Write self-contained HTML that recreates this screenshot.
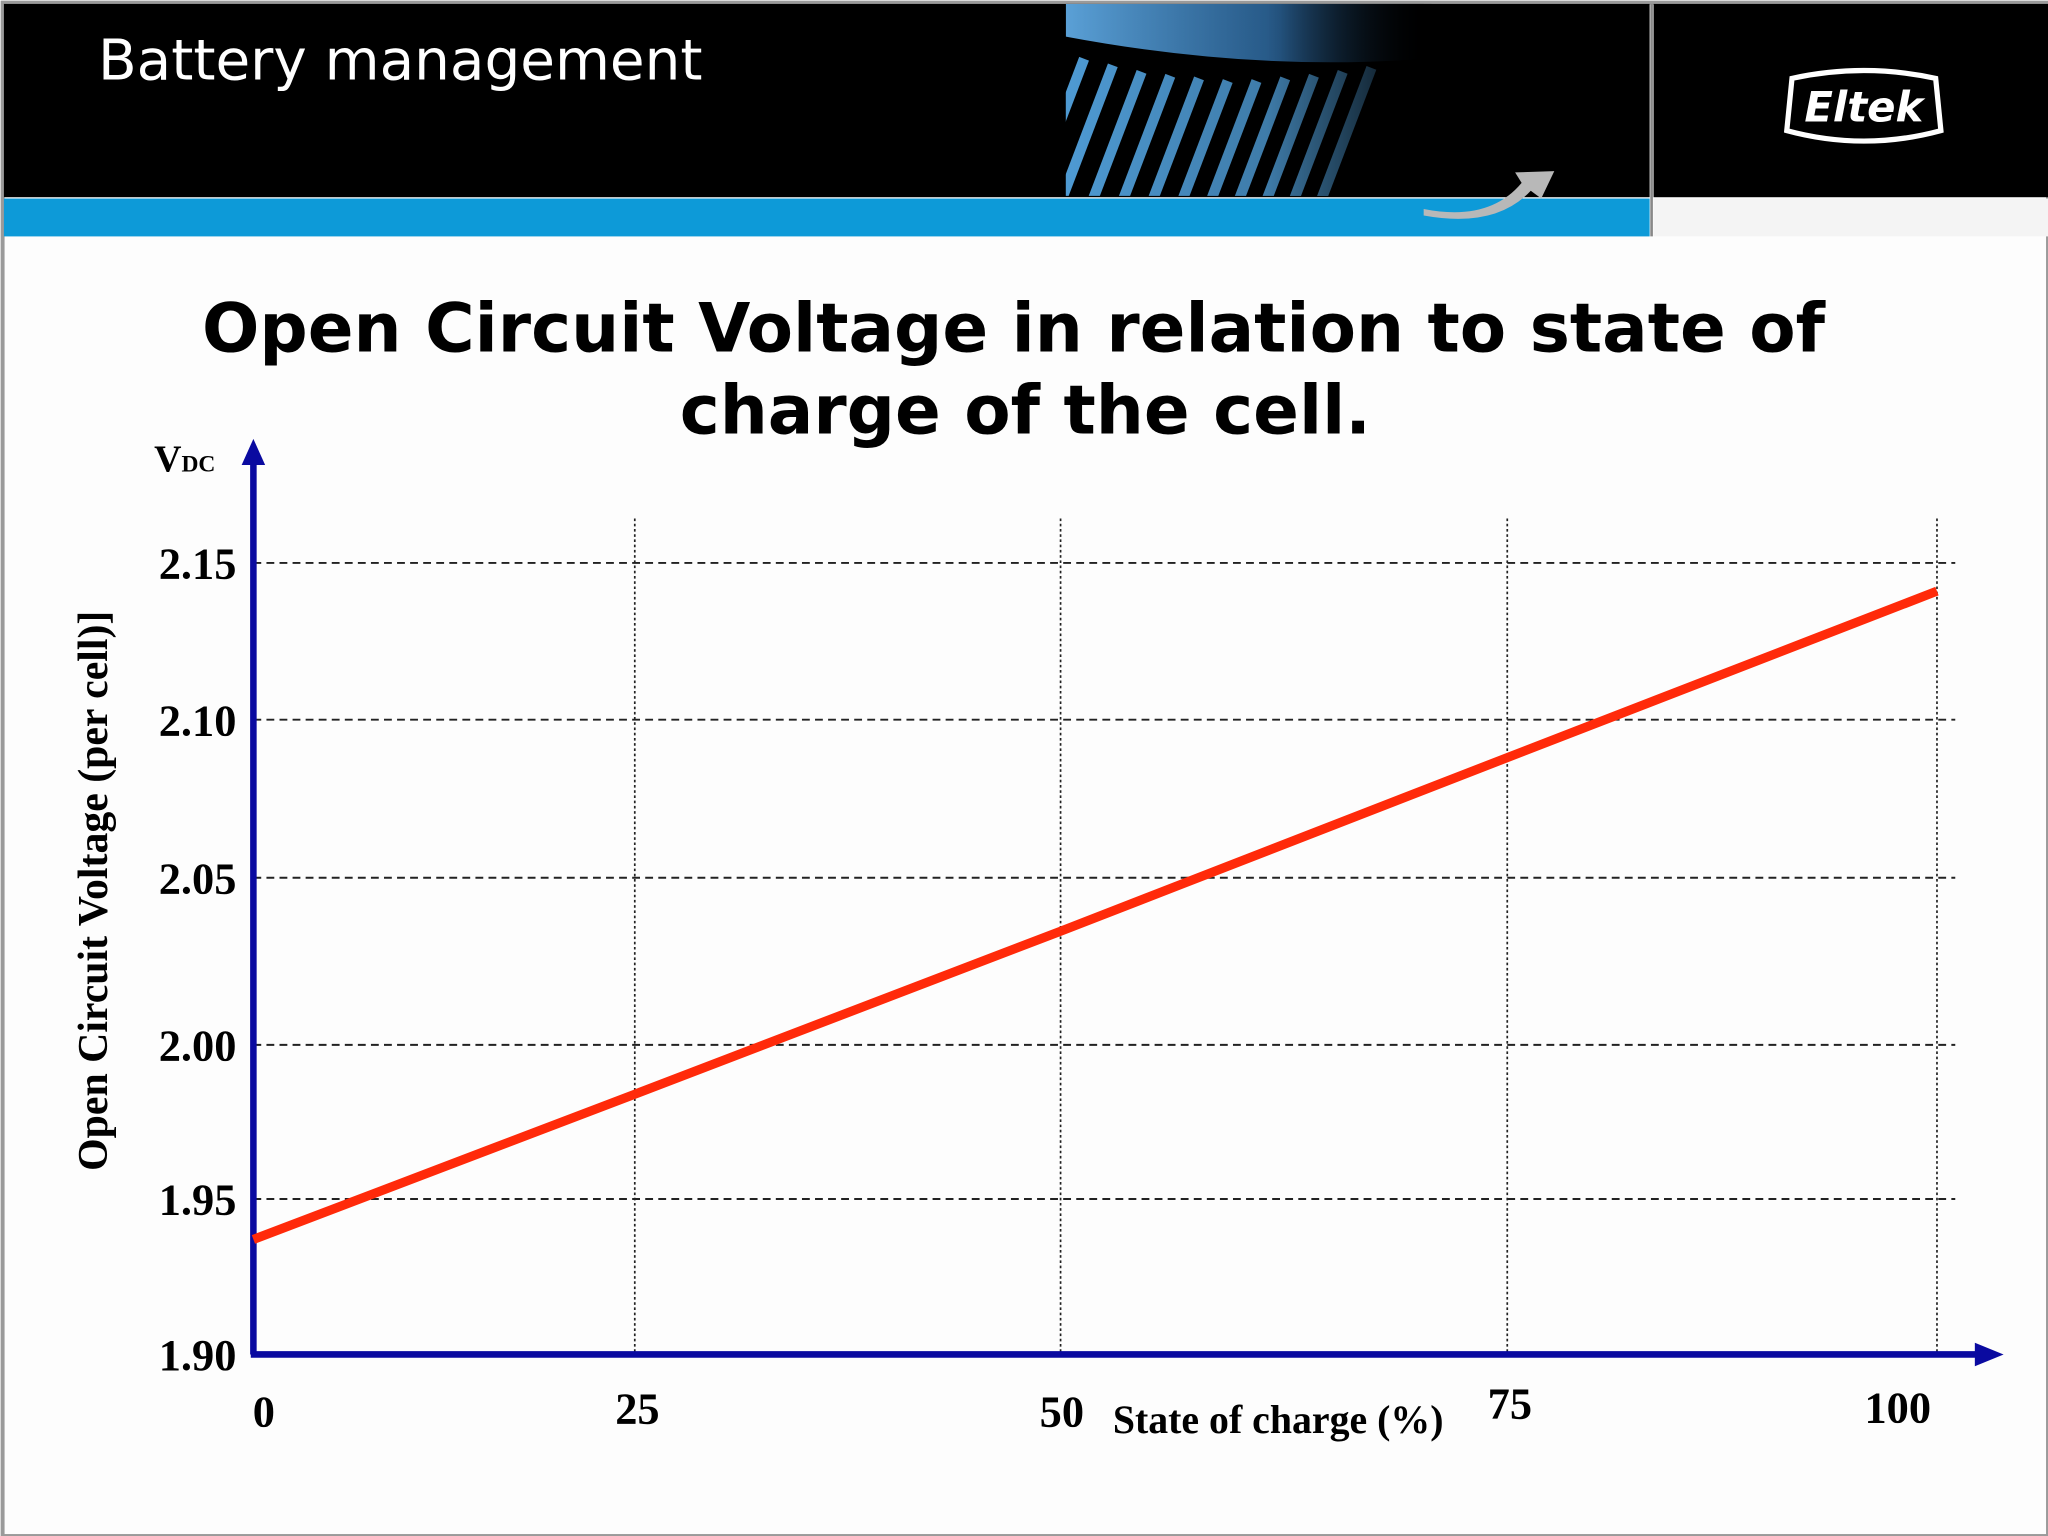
<!DOCTYPE html>
<html><head><meta charset="utf-8">
<style>
html,body{margin:0;padding:0;background:#fff;}
svg{display:block;}
</style></head>
<body>
<svg id="chart" width="2048" height="1536" viewBox="0 0 1568 1176" xmlns="http://www.w3.org/2000/svg">
  <defs>
    <linearGradient id="cap" x1="0" y1="0" x2="1" y2="0">
      <stop offset="0" stop-color="#5aa0d6"/><stop offset="0.6" stop-color="#2f6ea8"/><stop offset="1" stop-color="#000"/>
    </linearGradient>
    <linearGradient id="fade" x1="0" y1="0" x2="1" y2="0">
      <stop offset="0" stop-color="#000" stop-opacity="0"/><stop offset="0.55" stop-color="#000" stop-opacity="0.2"/><stop offset="1" stop-color="#000" stop-opacity="1"/>
    </linearGradient>
    <clipPath id="imgclip"><rect x="816" y="3" width="280" height="147"/></clipPath>
  </defs>
  <rect x="0" y="0" width="1568" height="1176" fill="#fdfdfd"/>
  <rect x="2" y="2" width="1566" height="1174" fill="none" stroke="#9a9a9a" stroke-width="3"/>
  <g>
    <rect x="3" y="3" width="1260" height="148" fill="#000"/>
    <rect x="1266" y="3" width="302" height="148" fill="#000"/>
    <rect x="3" y="152" width="1260" height="29" fill="#0d9ad8"/>
    <rect x="1266" y="152" width="302" height="29" fill="#f4f4f4"/>
    <line x1="1264.5" y1="3" x2="1264.5" y2="181" stroke="#888" stroke-width="2"/>
    <g clip-path="url(#imgclip)">
      <rect x="816" y="3" width="280" height="147" fill="#000"/>
      <path d="M816 3 H1090 V45 Q960 55 816 28 Z" fill="url(#cap)"/>
      <g stroke="#4e9ad3" stroke-width="8">
        <line x1="830" y1="45" x2="790" y2="150"/><line x1="852" y1="50" x2="812" y2="155"/>
        <line x1="874" y1="55" x2="834" y2="160"/><line x1="896" y1="58" x2="856" y2="163"/>
        <line x1="918" y1="60" x2="878" y2="165"/><line x1="940" y1="62" x2="900" y2="167"/>
        <line x1="962" y1="62" x2="922" y2="167"/><line x1="984" y1="60" x2="944" y2="165"/>
        <line x1="1006" y1="58" x2="966" y2="163"/><line x1="1028" y1="55" x2="988" y2="160"/>
        <line x1="1050" y1="52" x2="1010" y2="157"/>
      </g>
      <rect x="816" y="3" width="280" height="147" fill="url(#fade)"/>
    </g>
    <path d="M1090 160 Q1140 170 1165 140 L1160 132 L1190 131 L1180 152 L1172 146 Q1145 175 1090 165 Z" fill="#b8b8b8"/>
    <text x="75" y="61" font-family="'DejaVu Sans', sans-serif" font-size="43.2" fill="#fff">Battery management</text>
    <g>
      <path d="M1372 60 Q1427 48 1482 60 L1486 100 Q1427 116 1368 100 Z" fill="none" stroke="#fff" stroke-width="4"/>
      <text x="1427" y="93" text-anchor="middle" font-family="'DejaVu Sans', sans-serif" font-weight="bold" font-style="italic" font-size="32" fill="#fff">Eltek</text>
    </g>
  </g>
  <text text-anchor="middle" font-family="'DejaVu Sans', sans-serif" font-weight="bold" font-size="51.7" fill="#000">
    <tspan x="785" y="269">Open Circuit Voltage in relation to state of</tspan>
    <tspan x="785" y="332">charge of the cell.</tspan>
  </text>
  <g id="plot"></g>
</svg>
<script>
const xValues = [0, 25, 50, 75, 100];
const yValues = [1.937, 1.984, 2.034, 2.088, 2.141];
const xTicks = [0, 25, 50, 75, 100];
const xTickLabels = ["0", "25", "50", "75", "100"];
const yTicks = [1.90, 1.95, 2.00, 2.05, 2.10, 2.15];
const yTickLabels = ["1.90", "1.95", "2.00", "2.05", "2.10", "2.15"];

// axis scales (piecewise, matching the slide's hand-drawn axis)
const xDom = [0, 25, 50, 75, 100], xRng = [194, 486, 812, 1154, 1483];
const yDom = [1.90, 1.95, 2.00, 2.05, 2.10, 2.15], yRng = [1037, 918, 800, 672, 551, 431];
function interp(v, d, r){
  let i = 0;
  while (i < d.length - 2 && v > d[i+1]) i++;
  return r[i] + (v - d[i]) / (d[i+1] - d[i]) * (r[i+1] - r[i]);
}
const X = v => interp(v, xDom, xRng);
const Y = v => interp(v, yDom, yRng);

const NS = "http://www.w3.org/2000/svg";
const g = document.getElementById('plot');
function mk(tag, attrs, parent){
  const e = document.createElementNS(NS, tag);
  for (const k in attrs) e.setAttribute(k, attrs[k]);
  (parent || g).appendChild(e);
  return e;
}
const SERIF = "'Liberation Serif', serif";

yTicks.forEach((t, i) => {
  if (i === 0) return;
  const l = mk('line', {x1: 194, x2: 1497, y1: Y(t), y2: Y(t), stroke: '#222', 'stroke-width': 1.5, 'stroke-dasharray': '6 4'});
  
  
});
xTicks.forEach((t, i) => {
  if (i === 0) return;
  const l = mk('line', {x1: X(t), x2: X(t), y1: 397, y2: 1037, stroke: '#222', 'stroke-width': 1.3, 'stroke-dasharray': '2 2'});
  
  
});
const ya = mk('path', {d: 'M194 1037 V352', stroke: '#0a0aa0', 'stroke-width': 5, fill: 'none'});


const yarrow = mk('path', {d: 'M194 336 L185 356 L203 356 Z', fill: '#0a0aa0'});


const xa = mk('path', {d: 'M192 1037 H1516', stroke: '#0a0aa0', 'stroke-width': 5, fill: 'none'});


const xarrow = mk('path', {d: 'M1534 1037 L1512 1028 L1512 1046 Z', fill: '#0a0aa0'});



const pts = xValues.map((v, i) => X(v) + ',' + Y(yValues[i])).join(' ');
const line = mk('polyline', {points: pts, fill: 'none', stroke: '#ff2a0a', 'stroke-width': 7, 'stroke-linejoin': 'round'});



yTicks.forEach((t, i) => {
  const tx = mk('text', {x: 181, y: Y(t) + 12, 'text-anchor': 'end', 'font-family': SERIF, 'font-weight': 'bold', 'font-size': 34, fill: '#000'});
  tx.textContent = yTickLabels[i];
  
  
});
const xLabOffsets = [8, 2, 1, 2, -30];
const xLabY = [1092, 1090, 1092, 1086, 1089];
xTicks.forEach((t, i) => {
  const tx = mk('text', {x: X(t) + xLabOffsets[i], y: xLabY[i], 'text-anchor': 'middle', 'font-family': SERIF, 'font-weight': 'bold', 'font-size': 34, fill: '#000'});
  tx.textContent = xTickLabels[i];
  
  
});
const xt = mk('text', {x: 852, y: 1097, 'font-family': SERIF, 'font-weight': 'bold', 'font-size': 30.5, fill: '#000'});
xt.textContent = 'State of charge (%)';


const yt = mk('text', {x: 0, y: 0, transform: 'translate(82,682) rotate(-90)', 'text-anchor': 'middle', 'font-family': SERIF, 'font-weight': 'bold', 'font-size': 32, fill: '#000'});
yt.textContent = 'Open Circuit Voltage (per cell)]';


const vu = mk('text', {x: 118, y: 361, 'font-family': SERIF, 'font-weight': 'bold', 'font-size': 29, fill: '#000'});
vu.innerHTML = 'V<tspan font-size="18">DC</tspan>';


</script>
</body></html>
